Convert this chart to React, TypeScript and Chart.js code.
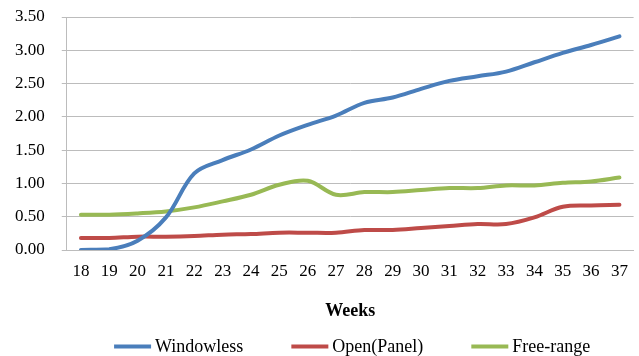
import React, { useEffect, useRef } from "react";
import { Chart, registerables } from "chart.js";

Chart.register(...registerables);

const weeks = ["18", "19", "20", "21", "22", "23", "24", "25", "26", "27", "28", "29", "30", "31", "32", "33", "34", "35", "36", "37"];
const windowless = [0.0, 0.01, 0.14, 0.49, 1.15, 1.35, 1.51, 1.72, 1.88, 2.02, 2.21, 2.29, 2.42, 2.54, 2.61, 2.68, 2.82, 2.96, 3.08, 3.21];
const openPanel = [0.18, 0.18, 0.2, 0.2, 0.21, 0.23, 0.24, 0.26, 0.26, 0.26, 0.3, 0.3, 0.33, 0.36, 0.39, 0.39, 0.49, 0.65, 0.67, 0.68];
const freeRange = [0.53, 0.53, 0.55, 0.58, 0.64, 0.73, 0.83, 0.98, 1.04, 0.83, 0.87, 0.87, 0.9, 0.93, 0.93, 0.97, 0.97, 1.01, 1.03, 1.09];

const FONT = "'Liberation Serif', 'Times New Roman', serif";

// Legend row under the axis title: short line swatch followed by the series name,
// centred on the plot area.
const bottomLegend = {
  id: "bottomLegend",
  afterDraw(chart: any) {
    const ctx = chart.ctx as CanvasRenderingContext2D;
    const lineLen = 37;
    const textGap = 4;
    const itemGap = 48;
    ctx.save();
    ctx.font = `18px ${FONT}`;
    const items = chart.data.datasets.map((ds: any) => ({
      label: ds.label as string,
      color: ds.borderColor as string,
      w: ctx.measureText(ds.label).width,
    }));
    const total =
      items.reduce((s: number, it: any) => s + lineLen + textGap + it.w, 0) + itemGap * (items.length - 1);
    const area = chart.chartArea;
    let x = (area.left + area.right) / 2 - total / 2 + 2;
    const y = chart.height - 9.5;
    ctx.textBaseline = "middle";
    ctx.textAlign = "left";
    for (const it of items) {
      ctx.strokeStyle = it.color;
      ctx.lineWidth = 4;
      ctx.lineCap = "butt";
      ctx.beginPath();
      ctx.moveTo(x, y);
      ctx.lineTo(x + lineLen, y);
      ctx.stroke();
      ctx.fillStyle = "#000";
      ctx.fillText(it.label, x + lineLen + textGap, y + 1);
      x += lineLen + textGap + it.w + itemGap;
    }
    ctx.restore();
  },
};

export default function App() {
  const canvasRef = useRef<HTMLCanvasElement | null>(null);

  useEffect(() => {
    document.body.style.margin = "0";
    const canvas = canvasRef.current;
    if (!canvas) return;
    const line = (label: string, data: number[], color: string) => ({
      label,
      data,
      borderColor: color,
      backgroundColor: color,
      borderWidth: 4,
      pointRadius: 0,
      tension: 0.35,
      borderCapStyle: "round" as const,
    });
    const chart = new Chart(canvas, {
      type: "line",
      data: {
        labels: weeks,
        datasets: [
          line("Windowless", windowless, "#4A7EBB"),
          line("Open(Panel)", openPanel, "#BE4B48"),
          line("Free-range", freeRange, "#98B954"),
        ],
      },
      options: {
        animation: false,
        responsive: false,
        layout: { padding: { left: -2, right: 3, top: 0, bottom: 34 } },
        plugins: {
          tooltip: { enabled: false },
          legend: { display: false },
        },
        scales: {
          x: {
            offset: true,
            grid: { display: false, drawTicks: false },
            border: { color: "#BCBCBC", width: 1 },
            ticks: { font: { family: FONT, size: 17 }, color: "#000", padding: 11, maxRotation: 0, autoSkip: false },
            title: {
              display: true,
              text: "Weeks",
              font: { family: FONT, size: 18, weight: "bold" },
              color: "#000",
              padding: { top: 8, bottom: 0 },
            },
          },
          y: {
            min: 0,
            max: 3.5,
            afterFit: (scale: any) => {
              scale.paddingTop = 17;
            },
            ticks: {
              stepSize: 0.5,
              font: { family: FONT, size: 17 },
              color: "#000",
              padding: 17,
              callback: (v: any) => Number(v).toFixed(2),
            },
            grid: { color: "#BCBCBC", lineWidth: 1, tickLength: 5 },
            border: { color: "#BCBCBC", width: 1 },
          },
        },
      },
      plugins: [bottomLegend],
    });
    return () => chart.destroy();
  }, []);

  return (
    <div style={{ position: "absolute", left: 0, top: 0, width: 639, height: 356, background: "#fff" }}>
      <canvas ref={canvasRef} width={639} height={356} />
    </div>
  );
}
